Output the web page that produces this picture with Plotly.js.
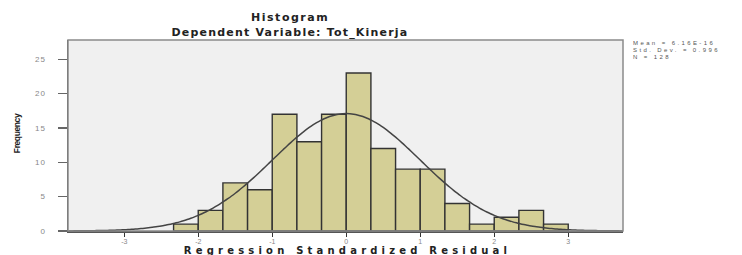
<!DOCTYPE html>
<html>
<head>
<meta charset="utf-8">
<script src="https://cdn.plot.ly/plotly-3.0.1.min.js"></script>
<style>
html,body{margin:0;padding:0;background:#fff;}
#chart{width:742px;height:255px;}
</style>
</head>
<body>
<div id="chart"></div>
<script>
// Histogram bins (left edges) and counts
var binLeft = [-2.3333, -2.0, -1.6667, -1.3333, -1.0, -0.6667, -0.3333, 0.0, 0.3333, 0.6667, 1.0, 1.3333, 1.6667, 2.0, 2.3333, 2.6667];
var counts  = [1, 3, 7, 6, 17, 13, 17, 23, 12, 9, 9, 4, 1, 2, 3, 1];
var binWidth = 1/3;
// Summary statistics shown in the legend box
var statMean = 6.16e-16;
var statSD = 0.996;
var statN = 128;
var statLabels = ["Mean = 6.16E-16", "Std. Dev. = 0.996", "N = 128"];
var xTicks = [-3, -2, -1, 0, 1, 2, 3];
var yTicks = [0, 5, 10, 15, 20, 25];

// Fitted normal curve (as drawn by SPSS), scaled to counts
var curveX = [], curveY = [];
for (var i = 0; i <= 150; i++) {
  var x = -3.75 + i * 0.05;
  curveX.push(x);
  var z = (x - statMean) / statSD;
  curveY.push(statN * binWidth * Math.exp(-0.5 * z * z) / (statSD * Math.sqrt(2 * Math.PI)));
}

var traces = [
  {
    type: 'bar',
    x: binLeft,
    y: counts,
    width: binWidth,
    offset: 0,
    marker: {color: '#d4cf96', line: {color: '#333333', width: 1.4}},
    hoverinfo: 'skip'
  },
  {
    type: 'scatter',
    mode: 'lines',
    x: curveX,
    y: curveY,
    line: {color: '#444444', width: 1.5, shape: 'spline'},
    hoverinfo: 'skip'
  }
];

var statAnn = statLabels.map(function (t, k) {
  return {xref: 'paper', yref: 'paper', x: 1.0145, y: [0.984, 0.948, 0.912][k],
          xanchor: 'left', yanchor: 'middle', align: 'left', showarrow: false,
          text: t, font: {family: 'Liberation Sans, Arial, sans-serif', size: 6, color: '#555'}};
});

var layout = {
  width: 742,
  height: 255,
  margin: {l: 68, r: 119, t: 40, b: 24},
  paper_bgcolor: '#ffffff',
  plot_bgcolor: '#f0f0f0',
  showlegend: false,
  bargap: 0,
  title: {
    text: '<b>Histogram</b>',
    x: 0.391, xref: 'container', xanchor: 'center',
    y: 0.933, yref: 'container', yanchor: 'middle',
    font: {family: 'DejaVu Sans, sans-serif', size: 11, color: '#222'}
  },
  xaxis: {
    range: [-3.76, 3.74],
    tickvals: xTicks,
    ticktext: xTicks.map(String),
    ticks: 'outside', ticklen: 4, tickwidth: 1.3, tickcolor: '#333',
    ticklabelstandoff: -1,
    tickfont: {family: 'Liberation Sans, Arial, sans-serif', size: 7, color: '#888'},
    showgrid: false, zeroline: false,
    showline: true, linecolor: '#555', linewidth: 1.5, mirror: false
  },
  yaxis: {
    range: [0, 27.8],
    tickvals: yTicks,
    ticks: 'outside', ticklen: 9, tickwidth: 1.2, tickcolor: '#666',
    ticklabelstandoff: 10,
    tickfont: {family: 'Liberation Sans, Arial, sans-serif', size: 8, color: '#888'},
    showgrid: false, zeroline: false,
    showline: true, linecolor: '#555', linewidth: 1.5
  },
  shapes: [
    {type: 'rect', xref: 'paper', yref: 'paper', x0: 0, x1: 1, y0: 0, y1: 1,
     line: {color: '#8a8a8a', width: 1.5}, fillcolor: 'rgba(0,0,0,0)'}
  ],
  annotations: [
    {xref: 'paper', yref: 'paper', x: 0.4, y: 1.037, xanchor: 'center', yanchor: 'middle',
     showarrow: false, text: '<b>Dependent Variable: Tot_Kinerja</b>',
     font: {family: 'DejaVu Sans, sans-serif', size: 11, color: '#222'}},
    {xref: 'paper', yref: 'paper', x: 0.503, y: -0.0995, xanchor: 'center', yanchor: 'middle',
     showarrow: false, text: '<b>Regression Standardized Residual</b>',
     font: {family: 'DejaVu Sans, sans-serif', size: 10, color: '#222'}},
    {xref: 'paper', yref: 'paper', x: -0.092, y: 0.513, xanchor: 'center', yanchor: 'middle',
     textangle: -90, showarrow: false, text: '<b>Frequency</b>',
     font: {family: 'Liberation Sans, Arial, sans-serif', size: 8.5, color: '#222'}}
  ].concat(statAnn)
};

Plotly.newPlot('chart', traces, layout, {displayModeBar: false, staticPlot: true}).then(function () {
  var gt = document.querySelector('.gtitle');
  if (gt) gt.style.letterSpacing = '1.5px';
  var anns = document.querySelectorAll('.annotation-text');
  var spacing = ['1.2px', '4.2px', '-0.4px', '2.4px', '2.4px', '2.4px'];
  anns.forEach(function (el, k) {
    if (spacing[k]) el.style.letterSpacing = spacing[k];
  });
  // widen the y tick labels slightly, like the reference
  document.querySelectorAll('.ytick text').forEach(function (el) {
    el.style.letterSpacing = '1px';
  });
});
</script>
</body>
</html>
